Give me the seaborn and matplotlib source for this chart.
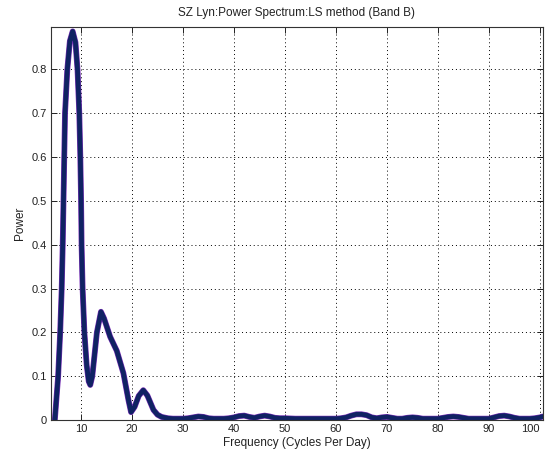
import numpy as np
import pandas as pd
import seaborn as sns
import matplotlib
matplotlib.use("Agg")
import matplotlib.pyplot as plt

freq = [4.85, 5.5, 5.9, 6.2, 6.4, 6.55, 6.7, 6.85, 7.3, 7.8, 8.35, 8.9, 9.3, 9.65,
        9.85, 10.0, 10.1, 10.3, 10.65, 11.1, 11.5, 11.8, 12.2, 13.1, 13.9, 14.5,
        15.7, 17.0, 18.3, 19.3, 19.8, 20.5, 21.3, 22.2, 23.0, 24.2, 25.0, 25.8,
        27, 28, 29, 30, 31, 32, 33, 34, 35, 36, 37, 38, 39, 40, 41, 42, 43, 44,
        45, 46, 47, 48, 49, 50, 52, 54, 56, 58, 60, 61, 62, 63, 64, 65, 66, 67,
        68, 69, 70, 71, 72, 73, 74, 75, 76, 77, 78, 80, 81, 82, 83, 84, 85, 86,
        88, 90, 91, 92, 93, 94, 95, 96, 98, 99, 100, 100.6]
power = [0.0, 0.1, 0.2, 0.3, 0.4, 0.5, 0.6, 0.7, 0.8, 0.865, 0.887, 0.862, 0.8, 0.7,
         0.6, 0.5, 0.4, 0.3, 0.2, 0.125, 0.088, 0.08, 0.1, 0.2, 0.247, 0.232,
         0.19, 0.158, 0.107, 0.045, 0.018, 0.03, 0.055, 0.068, 0.056, 0.023, 0.012, 0.007,
         0.004, 0.003, 0.003, 0.003, 0.004, 0.006, 0.008, 0.007, 0.004, 0.003, 0.003, 0.003,
         0.004, 0.006, 0.009, 0.010, 0.007, 0.005, 0.008, 0.010, 0.008, 0.005, 0.004, 0.004,
         0.003, 0.003, 0.003, 0.003, 0.003, 0.004, 0.006, 0.010, 0.013, 0.013, 0.011, 0.006,
         0.004, 0.006, 0.007, 0.005, 0.003, 0.003, 0.005, 0.006, 0.005, 0.003, 0.003, 0.003,
         0.005, 0.007, 0.008, 0.007, 0.005, 0.003, 0.003, 0.003, 0.006, 0.009, 0.010, 0.008,
         0.005, 0.003, 0.003, 0.004, 0.006, 0.008]

xticks = [10, 20, 30, 40, 50, 60, 70, 80, 90, 100]
yticks = [0, 0.1, 0.2, 0.3, 0.4, 0.5, 0.6, 0.7, 0.8]

title = "SZ Lyn:Power Spectrum:LS method (Band B)"
xlabel = "Frequency (Cycles Per Day)"
ylabel = "Power"

sns.set_style("ticks")
plt.rcParams["font.family"] = ["Liberation Sans", "DejaVu Sans"]
plt.rcParams["xtick.direction"] = "in"
plt.rcParams["ytick.direction"] = "in"
plt.rcParams["xtick.top"] = True
plt.rcParams["ytick.right"] = True

df = pd.DataFrame({"freq": freq, "power": power})

fig = plt.figure(figsize=(5.48, 4.59), dpi=100)
ax = fig.add_axes([51 / 548, 39 / 459, (543 - 51) / 548, (420 - 27) / 459])

sns.lineplot(data=df, x="freq", y="power", ax=ax, color="#7a2fb8", linewidth=4.2,
             solid_capstyle="round", solid_joinstyle="round", estimator=None, sort=False)
sns.lineplot(data=df, x="freq", y="power", ax=ax, color="#102263", linewidth=3.4,
             solid_capstyle="round", solid_joinstyle="round", estimator=None, sort=False)

ax.set_xlim(4.1, 100.6)
ax.set_ylim(0, 0.897)
ax.set_xticks(xticks)
ax.set_xticklabels([str(t) for t in xticks])
ax.set_yticks(yticks)
ax.set_yticklabels(["0"] + [f"{t:.1f}" for t in yticks[1:]])
ax.grid(True, linestyle=(0, (1, 3)), color="black", linewidth=0.7)
ax.set_axisbelow(True)
for s in ax.spines.values():
    s.set_visible(True)
    s.set_color("#333333")
    s.set_linewidth(0.8)
ax.tick_params(labelsize=8, length=4, width=0.7, colors="#222222", pad=3)
ax.get_xticklabels()[-1].set_horizontalalignment("right")
ax.get_xticklabels()[-1].set_x(100.6)
ax.set_title(title, fontsize=8.5, color="#222222", pad=8)
ax.set_xlabel(xlabel, fontsize=8.5, color="#222222", labelpad=2)
ax.set_ylabel(ylabel, fontsize=8.5, color="#222222", labelpad=4)

fig.savefig("out.png", dpi=100, facecolor="white")
